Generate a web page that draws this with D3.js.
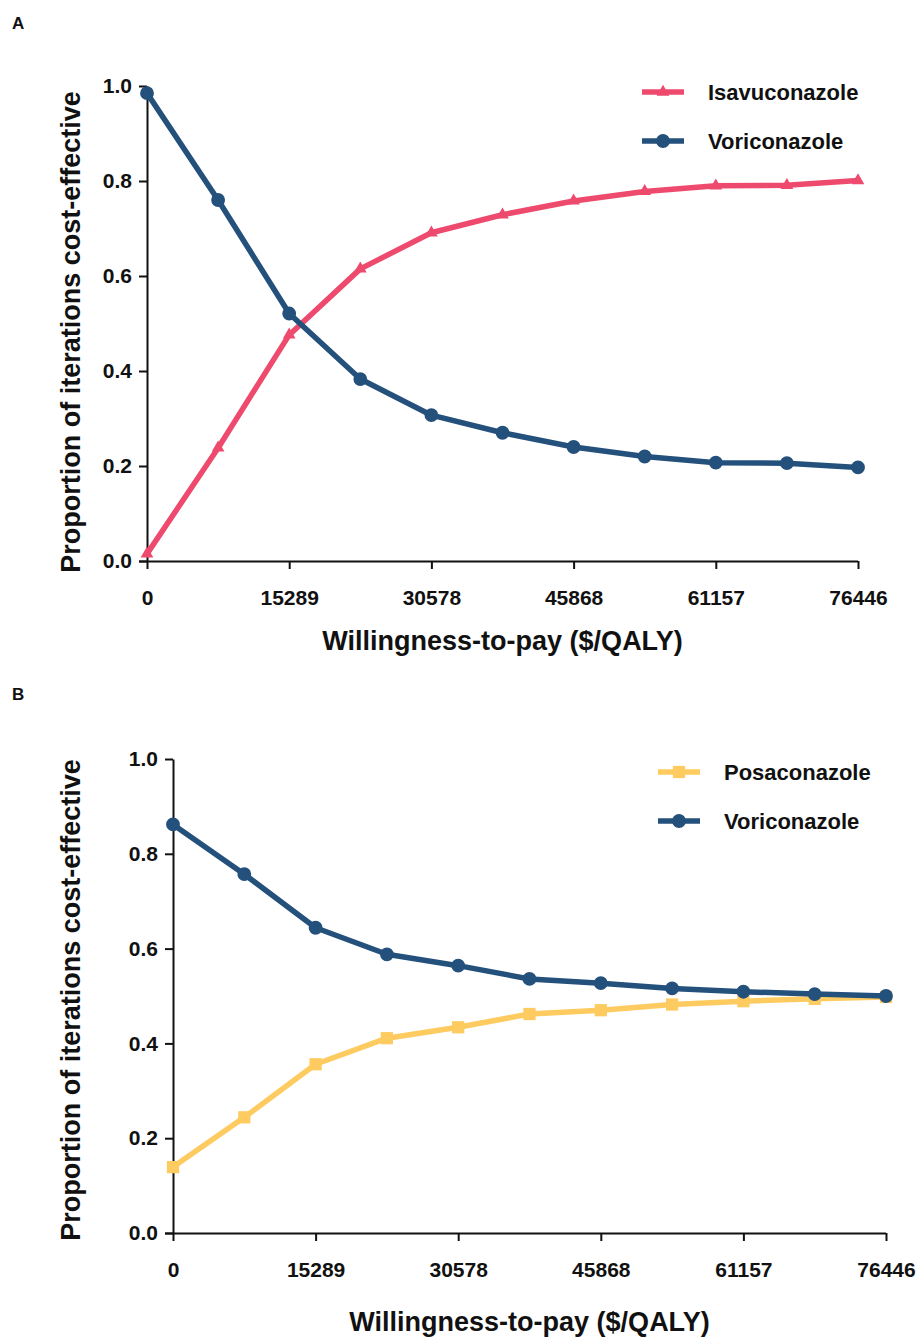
<!DOCTYPE html>
<html>
<head>
<meta charset="utf-8">
<script src="https://cdn.jsdelivr.net/npm/d3@7"></script>
<style>
  body { margin: 0; background: #fff; }
  svg text { font-family: "Liberation Sans", Arial, sans-serif; font-weight: bold; fill: #111; }
</style>
</head>
<body>
<svg id="chart" width="919" height="1342"></svg>
<script>
// willingness-to-pay steps (11 points) and the labelled ticks
const wtp = [0, 7645, 15289, 22934, 30578, 38223, 45868, 53512, 61157, 68801, 76446];
const xTicks = [0, 15289, 30578, 45868, 61157, 76446];
const yTicks = [0, 0.2, 0.4, 0.6, 0.8, 1.0];

// panel A
const isavuconazole = [0.015, 0.238, 0.476, 0.615, 0.691, 0.729, 0.758, 0.778, 0.790, 0.791, 0.801];
const voriconazoleA = [0.985, 0.760, 0.521, 0.383, 0.307, 0.270, 0.240, 0.220, 0.207, 0.206, 0.197];
// panel B
const posaconazole = [0.139, 0.244, 0.356, 0.411, 0.434, 0.462, 0.470, 0.482, 0.489, 0.494, 0.498];
const voriconazoleB = [0.862, 0.757, 0.644, 0.588, 0.564, 0.536, 0.527, 0.516, 0.509, 0.504, 0.500];

const pink = "#ee4a6e", navy = "#24507c", yellow = "#fdcb5f";

const svg = d3.select("#chart");

/* one panel: left/right/top/bottom are the plot box in pixels,
   series is drawn in order, so the blue line sits on top */
function drawPanel(p) {
    const x = d3.scaleLinear().domain([0, 76446]).range([p.left, p.right]);
    const y = d3.scaleLinear().domain([0, 1]).range([p.bottom, p.top]);

    svg.append("text")
        .attr("x", 12).attr("y", p.letterY)
        .attr("font-size", 17)
        .text(p.letter);

    const xAxis = svg.append("g")
        .attr("transform", `translate(0,${p.bottom})`)
        .call(d3.axisBottom(x).tickValues(xTicks).tickFormat(d3.format("d")).tickSize(8).tickSizeOuter(0).tickPadding(21));
    const yAxis = svg.append("g")
        .attr("transform", `translate(${p.left},0)`)
        .call(d3.axisLeft(y).tickValues(yTicks).tickFormat(d3.format(".1f")).tickSize(8).tickSizeOuter(0).tickPadding(7));
    [xAxis, yAxis].forEach(a => {
        a.selectAll("path, line").attr("stroke", "#111").attr("stroke-width", 2);
        a.selectAll("text").attr("font-size", 21).attr("fill", "#111");
    });
    xAxis.select(".domain").attr("d", `M${p.left - 8},0.5H${p.right}`);

    svg.append("text")
        .attr("transform", `translate(${p.yTitleX},${p.yTitleY}) rotate(-90)`)
        .attr("text-anchor", "middle")
        .attr("font-size", 27)
        .text("Proportion of iterations cost-effective");
    svg.append("text")
        .attr("x", (p.left + p.right) / 2).attr("y", p.xTitleY)
        .attr("text-anchor", "middle")
        .attr("font-size", 27)
        .text("Willingness-to-pay ($/QALY)");

    const line = d3.line().x((d, i) => x(wtp[i])).y(d => y(d));

    p.series.forEach((s, k) => {
        const g = svg.append("g");
        g.append("path")
            .datum(s.values)
            .attr("d", line)
            .attr("fill", "none")
            .attr("stroke", s.color)
            .attr("stroke-width", 5.5)
            .attr("stroke-linejoin", "round");
        g.selectAll("path.mark")
            .data(s.values)
            .join("path")
            .attr("class", "mark")
            .attr("transform", (d, i) => `translate(${x(wtp[i])},${y(d)})`)
            .attr("d", d3.symbol(s.shape, s.size))
            .attr("fill", s.color);

        // legend entry
        const ly = p.legendY + k * 49;
        const lg = svg.append("g");
        lg.append("line")
            .attr("x1", p.legendX).attr("x2", p.legendX + 42)
            .attr("y1", ly).attr("y2", ly)
            .attr("stroke", s.color).attr("stroke-width", 5.5);
        lg.append("path")
            .attr("transform", `translate(${p.legendX + 21},${ly})`)
            .attr("d", d3.symbol(s.shape, s.size))
            .attr("fill", s.color);
        lg.append("text")
            .attr("x", p.legendX + 66).attr("y", ly + 8)
            .attr("font-size", 22)
            .text(s.name);
    });
}

drawPanel({
    letter: "A", letterY: 29,
    left: 147, right: 858, top: 86, bottom: 561,
    xTitleY: 650, yTitleX: 80, yTitleY: 332,
    legendX: 642, legendY: 92,
    series: [
        { name: "Isavuconazole", values: isavuconazole, color: pink, shape: d3.symbolTriangle, size: 70 },
        { name: "Voriconazole", values: voriconazoleA, color: navy, shape: d3.symbolCircle, size: 150 }
    ]
});

drawPanel({
    letter: "B", letterY: 700,
    left: 173, right: 886, top: 759, bottom: 1233,
    xTitleY: 1331, yTitleX: 80, yTitleY: 1000,
    legendX: 658, legendY: 772,
    series: [
        { name: "Posaconazole", values: posaconazole, color: yellow, shape: d3.symbolSquare, size: 150 },
        { name: "Voriconazole", values: voriconazoleB, color: navy, shape: d3.symbolCircle, size: 150 }
    ]
});
</script>
</body>
</html>
